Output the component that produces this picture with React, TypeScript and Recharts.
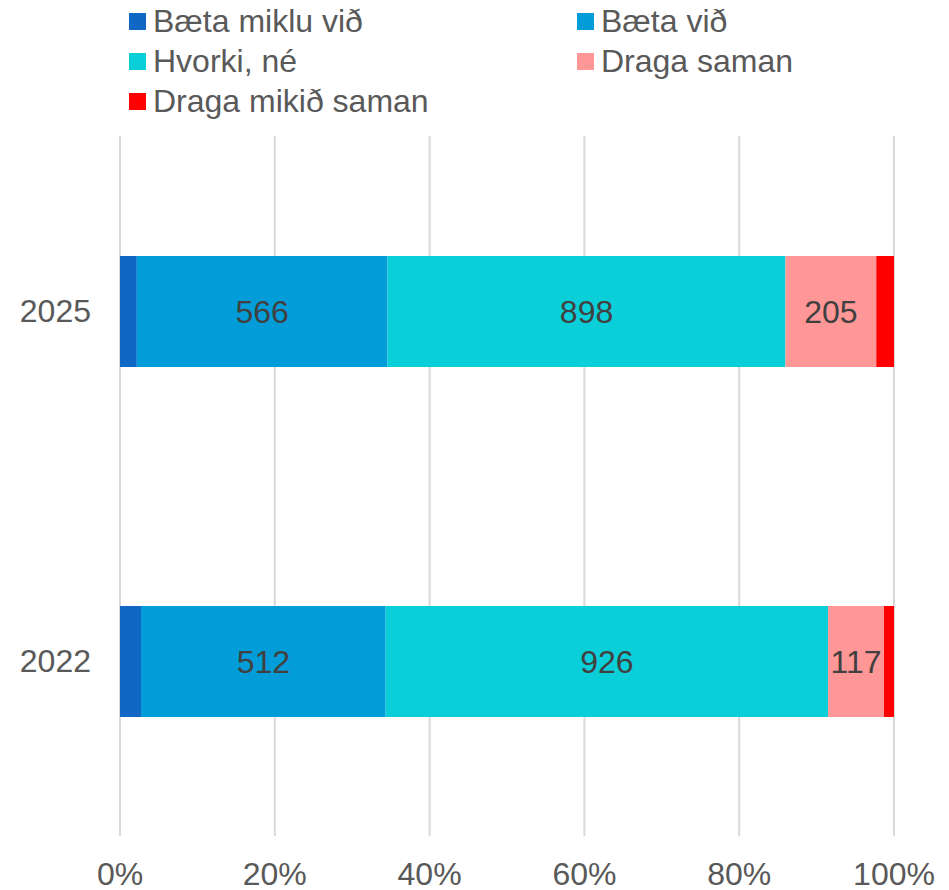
import React from 'react';
import { BarChart, Bar, XAxis, YAxis, CartesianGrid, Legend, LabelList } from 'recharts';

const categories = ['2025', '2022'];
const baetaMikluVid = [38, 44];
const baetaVid = [566, 512];
const hvorkiNe = [898, 926];
const dragaSaman = [205, 117];
const dragaMikidSaman = [40, 21];
const xTicks = [0, 0.2, 0.4, 0.6, 0.8, 1];

const seriesNames = ['Bæta miklu við', 'Bæta við', 'Hvorki, né', 'Draga saman', 'Draga mikið saman'];
const seriesKeys = ['s1', 's2', 's3', 's4', 's5'];
const seriesColors = ['#1068C4', '#029DD8', '#0BCFD8', '#FF9797', '#FF0000'];
const labelled = [false, true, true, true, false];

const data = categories.map((c, i) => ({
  year: c,
  s1: baetaMikluVid[i],
  s2: baetaVid[i],
  s3: hvorkiNe[i],
  s4: dragaSaman[i],
  s5: dragaMikidSaman[i],
}));

const FONT = '"Liberation Sans", Arial, sans-serif';
const FS = 32;

const LegendContent = () => {
  const cols = [
    [0, 2, 4],
    [1, 3],
  ];
  const colX = [129, 577];
  return (
    <div style={{ position: 'relative', width: 949, height: 125, fontFamily: FONT }}>
      {cols.map((col, ci) =>
        col.map((si, ri) => (
          <div
            key={si}
            style={{
              position: 'absolute',
              left: colX[ci],
              top: 1 + ri * 40,
              height: 40,
              display: 'flex',
              alignItems: 'center',
              whiteSpace: 'nowrap',
            }}
          >
            <span style={{ display: 'inline-block', width: 17, height: 17, background: seriesColors[si], marginRight: 7 }} />
            <span style={{ fontSize: FS, color: '#595959', lineHeight: '40px' }}>{seriesNames[si]}</span>
          </div>
        ))
      )}
    </div>
  );
};

export default function App() {
  return (
    <div style={{ position: 'absolute', left: 0, top: 0, width: 949, height: 890, background: '#fff', fontFamily: FONT }}>
      <BarChart
        width={949}
        height={890}
        data={data}
        layout="vertical"
        stackOffset="expand"
        margin={{ top: 136, right: 55, left: 0, bottom: 0 }}
      >
        <CartesianGrid horizontal={false} vertical={true} stroke="#D9D9D9" strokeWidth={2} />
        <XAxis
          type="number"
          domain={[0, 1]}
          ticks={xTicks}
          tickFormatter={(v: number) => `${Math.round(v * 100)}%`}
          axisLine={false}
          tickLine={false}
          tickSize={0}
          tickMargin={26}
          height={54}
          tick={{ fill: '#595959', fontSize: FS }}
          interval={0}
        />
        <YAxis
          type="category"
          dataKey="year"
          width={120}
          axisLine={false}
          tickLine={false}
          tickSize={0}
          tickMargin={29}
          tick={{ fill: '#595959', fontSize: FS }}
        />
        <Legend
          layout="horizontal"
          verticalAlign="middle"
          align="center"
          wrapperStyle={{ top: 0, left: 0, width: 949 }}
          content={() => <LegendContent />}
        />
        {seriesKeys.map((k, i) => (
          <Bar
            key={k}
            dataKey={k}
            name={seriesNames[i]}
            stackId="a"
            fill={seriesColors[i]}
            barSize={111}
            isAnimationActive={false}
          >
            {labelled[i] && (
              <LabelList dataKey={k} position="center" fill="#404040" fontSize={FS} />
            )}
          </Bar>
        ))}
      </BarChart>
    </div>
  );
}
